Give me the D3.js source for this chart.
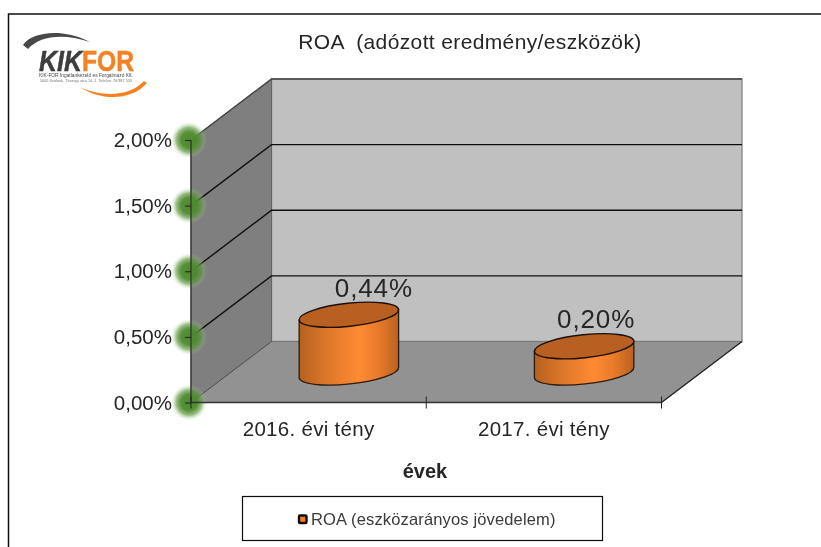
<!DOCTYPE html>
<html><head><meta charset="utf-8">
<script src="https://cdn.jsdelivr.net/npm/d3@7/dist/d3.min.js"></script>
<style>html,body{margin:0;padding:0;background:#fff;overflow:hidden}svg{display:block}text{font-family:"Liberation Sans",Arial,sans-serif;fill:#262626}</style>
</head><body><svg id="c" width="821" height="547"></svg>
<script>
const categories = ["2016. évi tény", "2017. évi tény"];
const roaValues = [0.44, 0.20];
const valueLabels = ["0,44%", "0,20%"];
const yTicks = [0, 0.5, 1, 1.5, 2];
const yTickLabels = ["0,00%", "0,50%", "1,00%", "1,50%", "2,00%"];
const chartTitle = "ROA  (adózott eredmény/eszközök)";
const axisTitle = "évek";
const legendLabel = "ROA (eszközarányos jövedelem)";

const svg = d3.select("#c");
const defs = svg.append("defs");
const depth = {x: 80.5, y: -61};
const x = d3.scaleBand().domain(categories).range([191, 661.5]);
const y = d3.scaleLinear().domain([0, 2]).range([402.5, 140]);
const x0 = x.range()[0], x1 = x.range()[1], y0 = y(0), yTop = y(2);
const line = d3.line();

const grad = defs.append("linearGradient").attr("id", "cyl");
[[0, "#b5601f"], [0.25, "#d9752a"], [0.6, "#ff8a32"], [0.8, "#e87a2b"], [1, "#b8621f"]]
  .forEach(([o, c]) => grad.append("stop").attr("offset", o).attr("stop-color", c));
const glow = defs.append("radialGradient").attr("id", "glow");
[[0, "#4c8a2a", 1], [0.45, "#4f8b2e", 0.95], [0.7, "#5f9840", 0.65], [0.87, "#8dbb78", 0.25], [1, "#a8cc98", 0]]
  .forEach(([o, c, a]) => glow.append("stop").attr("offset", o).attr("stop-color", c).attr("stop-opacity", a));
defs.append("filter").attr("id", "soft").append("feGaussianBlur").attr("stdDeviation", 0.45);
defs.append("filter").attr("id", "softAll").attr("x", 0).attr("y", 0)
  .attr("filterUnits", "userSpaceOnUse").attr("width", 821).attr("height", 547)
  .append("feGaussianBlur").attr("stdDeviation", 0.35);

const root = svg.append("g").attr("filter", "url(#softAll)");
root.append("rect").attr("x", 0).attr("y", 0).attr("width", 821).attr("height", 547).attr("fill", "#fff");
root.append("rect").attr("x", 8.5).attr("y", 14).attr("width", 900).attr("height", 600)
  .attr("fill", "#fff").attr("stroke", "#111").attr("stroke-width", 1.5);

// walls
root.append("path").attr("fill", "#c0c0c0").attr("stroke", "#8a8a8a").attr("stroke-width", 1.4).attr("d",
  line([[x0 + depth.x, y0 + depth.y], [x0 + depth.x, yTop + depth.y], [x1 + depth.x, yTop + depth.y], [x1 + depth.x, y0 + depth.y]]) + "Z");
root.append("path").attr("fill", "#7f7f7f").attr("stroke", "#666").attr("d",
  line([[x0, y0], [x0, yTop], [x0 + depth.x, yTop + depth.y], [x0 + depth.x, y0 + depth.y]]) + "Z");
root.append("path").attr("fill", "#929292").attr("stroke", "#777").attr("d",
  line([[x0, y0], [x1, y0], [x1 + depth.x, y0 + depth.y], [x0 + depth.x, y0 + depth.y]]) + "Z");

// gridlines
yTicks.forEach(t => {
  const yy = y(t);
  root.append("path").attr("fill", "none").attr("stroke", t === 0 ? "#555" : t === 2 ? "#444" : "#111")
    .attr("stroke-width", t === 0 ? 1 : 1.4)
    .attr("d", t === 0
      ? line([[x0, yy], [x0 + depth.x, yy + depth.y]])
      : line([[x0, yy], [x0 + depth.x, yy + depth.y], [x1 + depth.x, yy + depth.y]]));
});
root.append("path").attr("fill", "none").attr("stroke", "#222").attr("stroke-width", 1.2)
  .attr("d", line([[x1, y0], [x1 + depth.x, y0 + depth.y]]));

// glows
root.selectAll("circle.g").data(yTicks).join("circle").attr("class", "g")
  .attr("cx", x0 - 2).attr("cy", d => y(d)).attr("r", 18).attr("fill", "url(#glow)");

// axes
root.append("path").attr("stroke", "#333").attr("stroke-width", 1.3).attr("fill", "none")
  .attr("d", line([[x0, yTop], [x0, y0]]));
root.append("path").attr("stroke", "#333").attr("stroke-width", 1.6).attr("fill", "none")
  .attr("d", line([[x0, y0], [x1, y0]]));
const yAxis = d3.axisLeft(y).tickValues(yTicks).tickSize(6).tickPadding(13)
  .tickFormat((d, i) => yTickLabels[i]);
const gy = root.append("g").attr("transform", `translate(${x0},0)`).call(yAxis);
gy.select(".domain").remove();
gy.selectAll("line").attr("stroke", "#222");
gy.selectAll("text").style("font-size", "20.5px").attr("font-family", null);

const xEdges = [x0, x(categories[1]), x1];
root.selectAll("line.xt").data(xEdges).join("line").attr("class", "xt")
  .attr("x1", d => d).attr("x2", d => d).attr("y1", y0 - 6).attr("y2", y0 + 6)
  .attr("stroke", "#222");
root.selectAll("text.xl").data(categories).join("text").attr("class", "xl")
  .attr("x", d => x(d) + x.bandwidth() / 2).attr("y", y0 + 33).attr("text-anchor", "middle")
  .style("font-size", "20.5px").style("letter-spacing", "0.3px").text(d => d);

// cylinders
const labelShift = [25, 12];
const rx = 50, ry = 11.5, tilt = -6, baseY = y0 - 30;
const rad = tilt * Math.PI / 180;
const ex = rx * Math.cos(rad), ey = rx * Math.sin(rad);
const bars = root.selectAll("g.bar").data(categories).join("g").attr("class", "bar")
  .attr("transform", d => `translate(${x(d) + x.bandwidth() / 2 + depth.x / 2},0)`);
bars.each(function (d, i) {
  const g = d3.select(this);
  const h = y(0) - y(roaValues[i]);
  const tY = baseY - h;
  g.append("path").attr("fill", "url(#cyl)").attr("stroke", "#2a1a0e").attr("stroke-width", 1.3)
    .attr("d", `M${-ex},${tY - ey}L${-ex},${baseY - ey}A${rx},${ry} ${tilt} 0 0 ${ex},${baseY + ey}L${ex},${tY + ey}Z`);
  g.append("ellipse").attr("cx", 0).attr("cy", tY).attr("rx", rx).attr("ry", ry)
    .attr("transform", `rotate(${tilt} 0 ${tY})`)
    .attr("fill", "#b85f20").attr("stroke", "#1c1008").attr("stroke-width", 1.4);
  g.append("text").attr("x", labelShift[i]).attr("y", tY - 18).attr("text-anchor", "middle")
    .style("font-size", "26px").style("letter-spacing", "0.9px").text(valueLabels[i]);
});

// titles
root.append("text").attr("x", 470).attr("y", 49).attr("text-anchor", "middle").style("font-size", "21px").style("letter-spacing", "0.37px").style("white-space", "pre").text(chartTitle);
root.append("text").attr("x", 425).attr("y", 478).attr("text-anchor", "middle").style("font-size", "20px").style("font-weight", "bold").text(axisTitle);

// legend
root.append("rect").attr("x", 242.5).attr("y", 496.5).attr("width", 360).attr("height", 44)
  .attr("fill", "#fff").attr("stroke", "#111").attr("stroke-width", 1.2);
root.append("rect").attr("x", 299).attr("y", 515.5).attr("width", 7.5).attr("height", 7.5)
  .attr("rx", 1).attr("fill", "#f58220").attr("stroke", "#111").attr("stroke-width", 2.4);
root.append("text").attr("x", 311).attr("y", 525).style("font-size", "16.5px").style("letter-spacing", "0.15px").style("fill", "#3a3a3a").text(legendLabel);

// logo
const logo = root.append("g").attr("filter", "url(#soft)");
logo.append("path").attr("fill", "#4a4a4a").attr("d", "M23,45 C31,33 60,27 90,42 C62,33 40,36 28,49 Z");
logo.append("path").attr("fill", "#f58220").attr("d", "M80,87 C100,97 130,97 144,81 L147,83 C132,101 100,101 80,87 Z");
logo.append("text").attr("x", 39).attr("y", 70.5).attr("textLength", 43).attr("lengthAdjust", "spacingAndGlyphs")
  .style("font-size", "29px").style("font-weight", "bold").style("font-style", "italic").style("fill", "#3c3c3c").style("stroke", "#3c3c3c").style("stroke-width", 0.5).text("KIK");
logo.append("text").attr("x", 82).attr("y", 70.5).attr("textLength", 52).attr("lengthAdjust", "spacingAndGlyphs")
  .style("font-size", "29px").style("font-weight", "bold").style("fill", "#f58220").style("stroke", "#f58220").style("stroke-width", 0.5).text("FOR");
logo.append("text").attr("x", 39).attr("y", 77).attr("textLength", 94).attr("lengthAdjust", "spacingAndGlyphs").style("font-size", "5px").style("fill", "#444").text("KIK-FOR Ingatlankezelő és Forgalmazó Kft.");
logo.append("text").attr("x", 40).attr("y", 82).attr("textLength", 92).attr("lengthAdjust", "spacingAndGlyphs").style("font-size", "3.4px").style("fill", "#777").text("5000 Szolnok, Tószegi utca 14. 1. Telefon: 70/387 533");
</script></body></html>
